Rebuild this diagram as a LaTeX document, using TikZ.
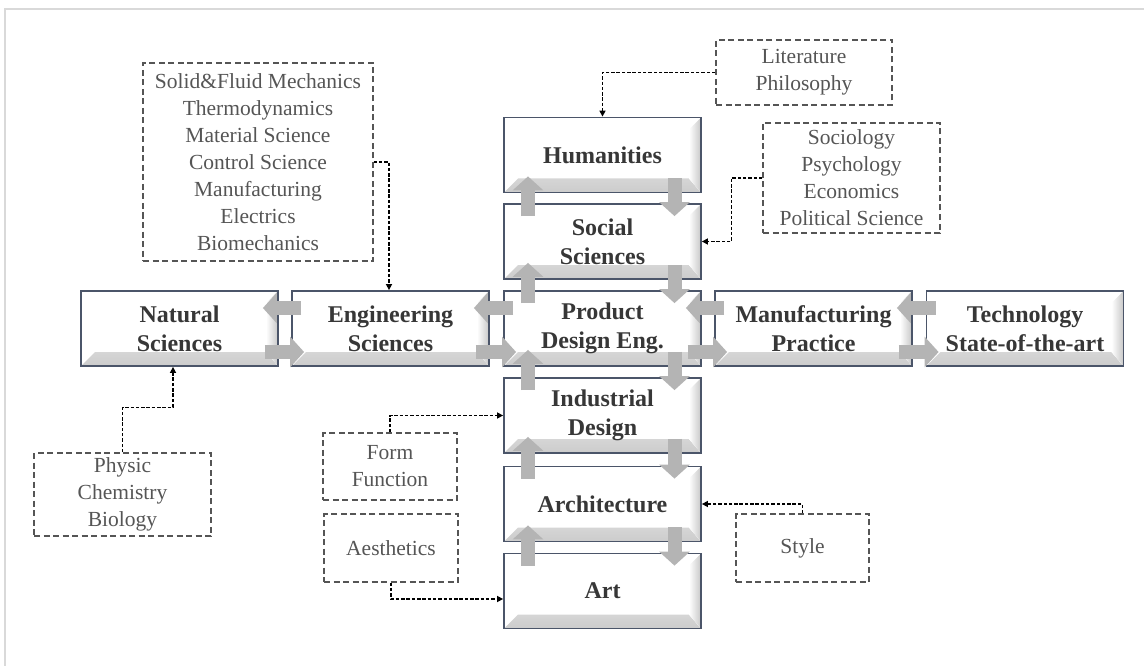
\documentclass[tikz,border=0pt]{standalone}
\usepackage{fontspec}
\setmainfont{Liberation Serif}
\usetikzlibrary{arrows.meta,calc}
\definecolor{boxline}{RGB}{75,85,105}
\definecolor{boxtext}{RGB}{55,55,55}
\definecolor{dashtext}{RGB}{85,85,85}
\definecolor{arrowgray}{RGB}{180,180,180}
\definecolor{framegray}{RGB}{217,217,217}
\begin{document}
\begin{tikzpicture}[x=1pt,y=-1pt,
  bevelbox/.style={draw=boxline, line width=1.8pt, fill=white,
    minimum width=197pt, minimum height=75pt, inner sep=2pt, align=center,
    font=\bfseries\fontsize{24}{29}\selectfont, text=boxtext,
    path picture={
      \fill[top color=white, bottom color=black!20]
        (path picture bounding box.south west) -- (path picture bounding box.south east)
        -- ([shift={(-12pt,14pt)}]path picture bounding box.south east)
        -- ([shift={(14pt,14pt)}]path picture bounding box.south west) -- cycle;
      \fill[left color=white, right color=black!22]
        (path picture bounding box.north east) -- (path picture bounding box.south east)
        -- ([shift={(-12pt,14pt)}]path picture bounding box.south east)
        -- ([shift={(-12pt,-12pt)}]path picture bounding box.north east) -- cycle;
    }},
  dashbox/.style={draw=dashtext, line width=1.3pt, dash pattern=on 6pt off 3.5pt,
    inner sep=0pt, align=center, text=dashtext,
    font=\fontsize{21.5}{27}\selectfont},
  conn/.style={draw=black, line width=1.5pt, dash pattern=on 3.5pt off 1.8pt,
    -{Triangle[length=6pt,width=6pt]}},
  barrow/.style={draw=arrowgray, line width=14pt, -{Triangle[width=30pt,length=14pt]}}
]
\useasboundingbox (0,0) rectangle (1144,666);
\draw[framegray, line width=2pt] (5,666) -- (5,9) -- (1144,9);

% main boxes
\node[bevelbox] (hum)  at (602.5,155)   {Humanities};
\node[bevelbox] (soc)  at (602.5,241.5) {Social\\Sciences};
\node[bevelbox] (pde)  at (602.5,328.5) {Product\\Design Eng.};
\node[bevelbox] (ind)  at (602.5,415.5) {Industrial\\Design};
\node[bevelbox] (arch) at (602.5,504)   {Architecture};
\node[bevelbox] (art)  at (602.5,591)   {Art};
\node[bevelbox] (nat)  at (179.5,328.5) {Natural\\Sciences};
\node[bevelbox] (eng)  at (390.5,328.5) {Engineering\\Sciences};
\node[bevelbox] (mfg)  at (813.5,328.5) {Manufacturing\\Practice};
\node[bevelbox] (tech) at (1025,328.5)  {Technology\\State-of-the-art};

% dashed boxes
\node[dashbox, minimum width=230pt, minimum height=198pt] (englist) at (258,162)
  {Solid\&Fluid Mechanics\\Thermodynamics\\Material Science\\Control Science\\Manufacturing\\Electrics\\Biomechanics};
\node[dashbox, minimum width=176pt, minimum height=65pt] (lit) at (804,72.5) {Literature\\Philosophy};
\node[dashbox, minimum width=177pt, minimum height=110pt] (socl) at (851.5,178)
  {Sociology\\Psychology\\Economics\\Political Science};
\node[dashbox, minimum width=177pt, minimum height=83pt] (phys) at (122.5,494.5) {Physic\\Chemistry\\Biology};
\node[dashbox, minimum width=134pt, minimum height=67pt] (form) at (390,466.5) {Form\\Function};
\node[dashbox, minimum width=134pt, minimum height=68pt] (aest) at (391,548) {Aesthetics};
\node[dashbox, minimum width=133pt, minimum height=68pt] (style) at (802.5,548) {Style};

% dotted connectors
\draw[conn] (lit.west) -| (hum.north);
\draw[conn] (socl.west) -- ++(-31,0) |- (soc.east);
\draw[conn] (englist.east) -| ([xshift=-1.5pt]eng.north);
\draw[conn] (phys.north) -- ++(0,-45) -| ([xshift=-6.5pt]nat.south);
\draw[conn] (form.north) |- (ind.west);
\draw[conn] (aest.south) |- ([yshift=-8pt]art.west);
\draw[conn] (style.north) |- (arch.east);

% block arrows
\foreach \u/\l in {hum/soc,soc/pde,pde/ind,ind/arch,arch/art}{
  \draw[barrow] ([shift={(-74.5,13)}]\l.north) -- ([shift={(-74.5,-17)}]\u.south);
  \draw[barrow] ([shift={(72,-15)}]\u.south) -- ([shift={(72,13)}]\l.north);
}
\foreach \a/\b in {nat/eng,eng/pde,pde/mfg,mfg/tech}{
  \draw[barrow] ([shift={(10,-20.5)}]\b.west) -- ([shift={(-16,-20.5)}]\a.east);
  \draw[barrow] ([shift={(-14,23.5)}]\a.east) -- ([shift={(13,23.5)}]\b.west);
}
\end{tikzpicture}
\end{document}
